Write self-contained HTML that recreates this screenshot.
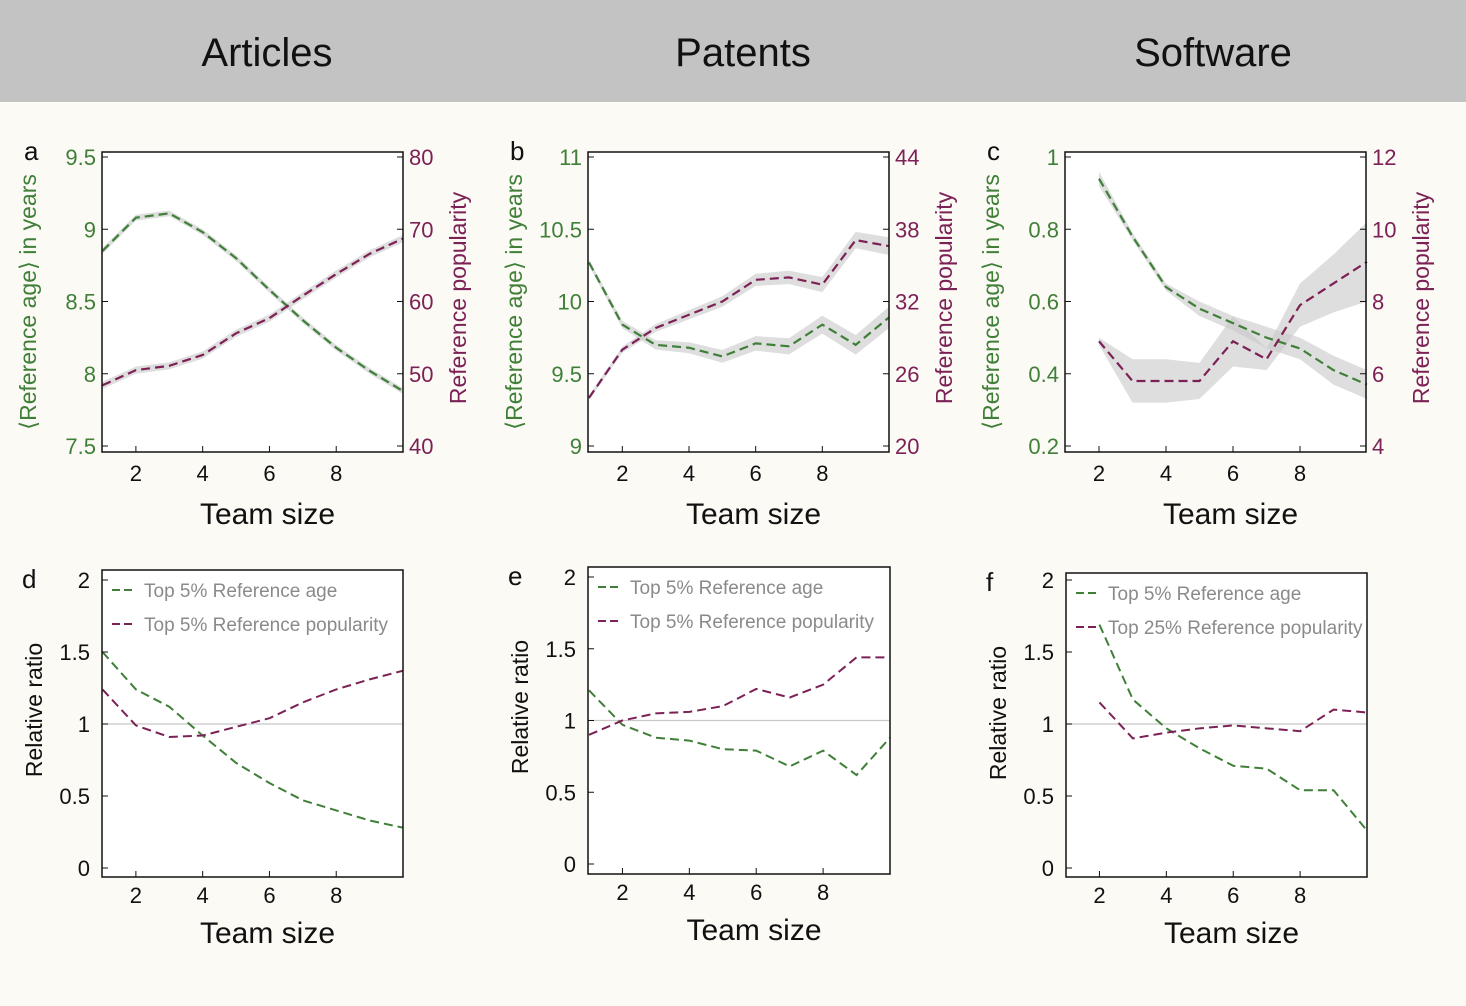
<!DOCTYPE html>
<html><head><meta charset="utf-8"><style>
html,body{margin:0;padding:0;background:#fcfaf5;}
svg{display:block;font-family:"Liberation Sans",sans-serif;}
</style></head><body>
<svg id="fig" width="1466" height="1006" viewBox="0 0 1466 1006">
<rect x="0" y="0" width="1466" height="102" fill="#c3c3c3"/>
<rect x="0" y="102" width="1466" height="904" fill="#fcfaf5"/>
<text x="267" y="66" font-size="40" text-anchor="middle" fill="#111">Articles</text>
<text x="743" y="66" font-size="40" text-anchor="middle" fill="#111">Patents</text>
<text x="1213" y="66" font-size="40" text-anchor="middle" fill="#111">Software</text>
</svg>
<script>
// ---- data ----
const teamA = [1,2,3,4,5,6,7,8,9,10];
const ageA = [8.85,9.08,9.11,8.98,8.80,8.58,8.37,8.18,8.02,7.88];
const popA = [48.4,50.5,51.1,52.6,55.6,57.7,60.8,63.8,66.6,68.7];
const teamB = [1,2,3,4,5,6,7,8,9,10];
const ageB = [10.27,9.84,9.70,9.68,9.62,9.71,9.69,9.84,9.70,9.89];
const popB = [24.0,28.0,29.8,30.9,32.0,33.8,34.0,33.4,37.1,36.6];
const teamC = [2,3,4,5,6,7,8,9,10];
const ageC = [0.94,0.78,0.64,0.58,0.54,0.50,0.47,0.41,0.37];
const popC = [6.9,5.8,5.8,5.8,6.9,6.4,7.9,8.5,9.1];
const popCErr = [0.1,0.6,0.6,0.5,0.7,0.3,0.6,0.8,1.1];
const ageCErr = [0.02,0.01,0.01,0.02,0.02,0.03,0.03,0.04,0.04];
const ratioAgeD = [1.50,1.24,1.12,0.92,0.73,0.59,0.47,0.40,0.33,0.28];
const ratioPopD = [1.24,0.99,0.91,0.92,0.98,1.04,1.15,1.24,1.31,1.37];
const ratioAgeE = [1.21,0.97,0.88,0.86,0.80,0.79,0.68,0.79,0.62,0.88];
const ratioPopE = [0.90,1.00,1.05,1.06,1.10,1.22,1.16,1.25,1.44,1.44];
const ratioAgeF = [1.69,1.17,0.97,0.83,0.71,0.69,0.54,0.54,0.26];
const ratioPopF = [1.15,0.90,0.94,0.97,0.99,0.97,0.95,1.10,1.08];
const xTicks = [2,4,6,8];
const leftTicksA = [7.5,8,8.5,9,9.5];
const rightTicksA = [40,50,60,70,80];
const leftTicksB = [9,9.5,10,10.5,11];
const rightTicksB = [20,26,32,38,44];
const leftTicksC = [0.2,0.4,0.6,0.8,1];
const rightTicksC = [4,6,8,10,12];
const ratioTicks = [0,0.5,1,1.5,2];

const GREEN = "#3f7f38", PURPLE = "#7c2155";
const svg = document.getElementById('fig');
const NS = "http://www.w3.org/2000/svg";
function mk(tag, attrs, parent){
  const e = document.createElementNS(NS, tag);
  for (const k in attrs) e.setAttribute(k, attrs[k]);
  (parent||svg).appendChild(e);
  return e;
}
function txt(x,y,s,size,fill,anchor,rot,parent){
  const t = mk('text',{x:x,y:y,'font-size':size,fill:fill,'text-anchor':anchor||'middle'},parent);
  if (rot) t.setAttribute('transform',`rotate(${rot} ${x} ${y})`);
  t.textContent = s;
  return t;
}
function fmt(v){ return String(v); }

function drawTop(p){
  const xs = v => p.x0 + (v-1)*(p.x1-p.x0)/9;
  const yl = v => p.yb - (v-p.l0)/(p.l1-p.l0)*(p.yb-p.yt);
  const yr = v => p.yb - (v-p.r0)/(p.r1-p.r0)*(p.yb-p.yt);
  const g = mk('g',{});
  
  
  mk('rect',{x:p.bx,y:p.by,width:p.bw,height:p.bh,fill:'#fff'},g);
  function band(xv, yv, err, sc, nm){
    let up='', dn='';
    xv.forEach((x,i)=>{ up += (i?'L':'M')+xs(x)+','+sc(yv[i]+err[i]); });
    for (let i=xv.length-1;i>=0;i--) dn += 'L'+xs(xv[i])+','+sc(yv[i]-err[i]);
    const b = mk('path',{d:up+dn+'Z',fill:'#c8c8c8','fill-opacity':0.6,stroke:'none'},g);
    
    
  }
  band(p.t, p.age, p.ageErr, yl, 'age-band-'+p.id);
  band(p.t, p.pop, p.popErr, yr, 'popularity-band-'+p.id);
  function line(xv,yv,sc,col,nm){
    const d = xv.map((x,i)=>(i?'L':'M')+xs(x)+','+sc(yv[i])).join('');
    const l = mk('path',{d:d,fill:'none',stroke:col,'stroke-width':2.2,'stroke-dasharray':'9,5'},g);
    
    
  }
  line(p.t,p.age,yl,GREEN,'age-line-'+p.id);
  line(p.t,p.pop,yr,PURPLE,'popularity-line-'+p.id);
  mk('rect',{x:p.bx,y:p.by,width:p.bw,height:p.bh,fill:'none',stroke:'#111','stroke-width':1.5},g);
  xTicks.forEach(v=>{
    mk('line',{x1:xs(v),x2:xs(v),y1:p.by+p.bh,y2:p.by+p.bh-6,stroke:'#111'},g);
    txt(xs(v),p.by+p.bh+29,fmt(v),22,'#111','middle',0,g);
  });
  p.lt.forEach(v=>{
    mk('line',{x1:p.bx,x2:p.bx+6,y1:yl(v),y2:yl(v),stroke:'#111'},g);
    txt(p.bx-6,yl(v)+8,fmt(v),22,GREEN,'end',0,g);
  });
  p.rt.forEach(v=>{
    mk('line',{x1:p.bx+p.bw,x2:p.bx+p.bw-6,y1:yr(v),y2:yr(v),stroke:'#111'},g);
    txt(p.bx+p.bw+6,yr(v)+8,fmt(v),22,PURPLE,'start',0,g);
  });
  const xt = txt(p.bx+p.bw/2+15,p.by+p.bh+72,'Team size',30,'#111','middle',0,g);
  
  
  txt(p.bx-78,160,p.id,26,'#111','start',0,g);
  const la = txt(p.bx-66,302,'⟨Reference age⟩ in years',23,GREEN,'middle',-90,g);
  
  
  const ra = txt(p.bx+p.bw+63,298,'Reference popularity',23,PURPLE,'middle',-90,g);
  
  
}

function drawBottom(p){
  const xs = v => p.x0 + (v-1)*(p.x1-p.x0)/9;
  const ys = v => p.y0 - v*p.k;
  const g = mk('g',{});
  
  
  mk('rect',{x:p.bx,y:p.by,width:p.bw,height:p.bh,fill:'#fff'},g);
  mk('line',{x1:p.bx,x2:p.bx+p.bw,y1:ys(1),y2:ys(1),stroke:'#c8c8c8','stroke-width':1.2},g);
  function line(xv,yv,col,nm){
    const d = xv.map((x,i)=>(i?'L':'M')+xs(x)+','+ys(yv[i])).join('');
    const l = mk('path',{d:d,fill:'none',stroke:col,'stroke-width':2,'stroke-dasharray':'9,5'},g);
    
    
  }
  line(p.t,p.a,GREEN,'ratio-age-line-'+p.id);
  line(p.t,p.p,PURPLE,'ratio-popularity-line-'+p.id);
  mk('rect',{x:p.bx,y:p.by,width:p.bw,height:p.bh,fill:'none',stroke:'#111','stroke-width':1.5},g);
  xTicks.forEach(v=>{
    mk('line',{x1:xs(v),x2:xs(v),y1:p.by+p.bh,y2:p.by+p.bh-6,stroke:'#111'},g);
    txt(xs(v),p.by+p.bh+26,fmt(v),22,'#111','middle',0,g);
  });
  ratioTicks.forEach(v=>{
    mk('line',{x1:p.bx,x2:p.bx+6,y1:ys(v),y2:ys(v),stroke:'#111'},g);
    txt(p.bx-12,ys(v)+8,fmt(v),22,'#111','end',0,g);
  });
  const xt = txt(p.bx+p.bw/2+15,p.by+p.bh+66,'Team size',30,'#111','middle',0,g);
  
  
  txt(p.bx-80,p.by+18,p.id,26,'#111','start',0,g);
  const ya = txt(p.bx-60,p.by+140,'Relative ratio',23,'#111','middle',-90,g);
  
  
  const lg = mk('g',{},g);
  
  
  mk('line',{x1:p.bx+10,x2:p.bx+32,y1:p.by+20,y2:p.by+20,stroke:GREEN,'stroke-width':2,'stroke-dasharray':'8,4'},lg);
  txt(p.bx+42,p.by+27,p.l1,19,'#8a8a8a','start',0,lg);
  mk('line',{x1:p.bx+10,x2:p.bx+32,y1:p.by+54,y2:p.by+54,stroke:PURPLE,'stroke-width':2,'stroke-dasharray':'8,4'},lg);
  txt(p.bx+42,p.by+61,p.l2,19,'#8a8a8a','start',0,lg);
}

drawTop({id:'a',bx:102,by:152,bw:301,bh:300,x0:102.5,x1:403,yb:446,yt:157,l0:7.5,l1:9.5,r0:40,r1:80,
  t:teamA,age:ageA,pop:popA,ageErr:ageA.map(()=>0.02),popErr:popA.map(()=>0.5),lt:leftTicksA,rt:rightTicksA});
drawTop({id:'b',bx:588,by:152,bw:301,bh:300,x0:589,x1:889,yb:446,yt:157,l0:9,l1:11,r0:20,r1:44,
  t:teamB,age:ageB,pop:popB,ageErr:ageB.map((v,i)=>0.02+i*0.006),popErr:popB.map((v,i)=>0.2+i*0.06),lt:leftTicksB,rt:rightTicksB});
drawTop({id:'c',bx:1065,by:152,bw:301,bh:300,x0:1065.5,x1:1367,yb:446,yt:157,l0:0.2,l1:1,r0:4,r1:12,
  t:teamC,age:ageC,pop:popC,ageErr:ageCErr,popErr:popCErr,lt:leftTicksC,rt:rightTicksC});

drawBottom({id:'d',bx:102,by:570,bw:301,bh:307,x0:102.5,x1:403,y0:868,k:144,t:teamA,a:ratioAgeD,p:ratioPopD,
  l1:'Top 5% Reference age',l2:'Top 5% Reference popularity'});
drawBottom({id:'e',bx:588,by:567,bw:302,bh:307,x0:589,x1:890,y0:864,k:143.5,t:teamB,a:ratioAgeE,p:ratioPopE,
  l1:'Top 5% Reference age',l2:'Top 5% Reference popularity'});
drawBottom({id:'f',bx:1066,by:573,bw:301,bh:304,x0:1066,x1:1367,y0:868,k:144,t:teamC,a:ratioAgeF,p:ratioPopF,
  l1:'Top 5% Reference age',l2:'Top 25% Reference popularity'});
</script>
</body></html>
